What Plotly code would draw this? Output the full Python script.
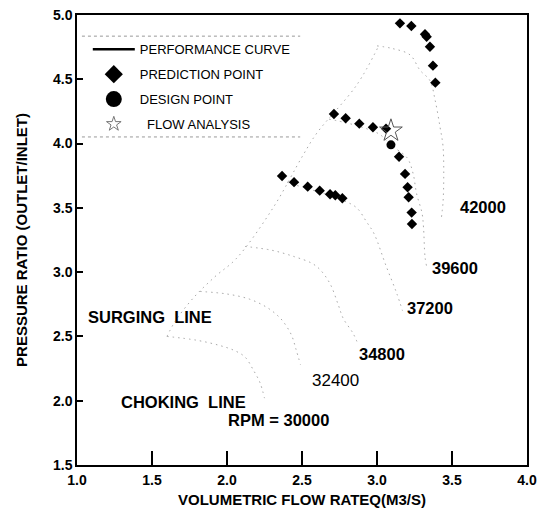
import plotly.graph_objects as go

# ---- performance curves (speed lines) ----
rpm30000_x = [1.60, 1.80, 1.95, 2.05, 2.12, 2.175, 2.22, 2.25]
rpm30000_y = [2.50, 2.47, 2.43, 2.39, 2.34, 2.24, 2.14, 2.02]

rpm32400_x = [1.82, 2.00, 2.15, 2.26, 2.33, 2.375, 2.43, 2.46, 2.49]
rpm32400_y = [2.85, 2.83, 2.79, 2.73, 2.67, 2.615, 2.51, 2.40, 2.28]

rpm34800_x = [2.12, 2.30, 2.45, 2.564, 2.62, 2.687, 2.742, 2.775, 2.84, 2.87]
rpm34800_y = [3.20, 3.17, 3.12, 3.07, 3.02, 2.91, 2.745, 2.64, 2.525, 2.45]

rpm37200_x = [2.40, 2.45, 2.55, 2.65, 2.78, 2.865, 2.931, 2.98, 3.06, 3.13, 3.17]
rpm37200_y = [3.70, 3.68, 3.645, 3.61, 3.555, 3.50, 3.39, 3.30, 3.05, 2.84, 2.70]

rpm39600_x = [2.68, 2.80, 2.92, 3.02, 3.09, 3.20, 3.24, 3.264, 3.30, 3.31, 3.32, 3.33]
rpm39600_y = [4.19, 4.16, 4.12, 4.07, 3.99, 3.89, 3.77, 3.61, 3.46, 3.35, 3.12, 3.05]

rpm42000_x = [3.00, 3.10, 3.22, 3.287, 3.353, 3.387, 3.42, 3.44, 3.445, 3.44, 3.43]
rpm42000_y = [4.76, 4.74, 4.69, 4.57, 4.49, 4.34, 4.13, 3.98, 3.75, 3.54, 3.43]

surge_x = [1.60, 1.653, 1.776, 1.92, 2.064, 2.307, 2.507, 2.598, 2.865, 3.007]
surge_y = [2.50, 2.615, 2.80, 2.965, 3.108, 3.50, 3.91, 4.08, 4.456, 4.75]

# ---- prediction points ----
pred42000_x = [3.153, 3.229, 3.320, 3.331, 3.353, 3.373, 3.389]
pred42000_y = [4.935, 4.914, 4.850, 4.831, 4.753, 4.606, 4.474]

pred39600_x = [2.713, 2.791, 2.882, 2.973, 3.060, 3.147, 3.187, 3.204, 3.211, 3.231, 3.233]
pred39600_y = [4.230, 4.197, 4.155, 4.127, 4.116, 3.898, 3.764, 3.660, 3.582, 3.463, 3.375]

pred37200_x = [2.367, 2.447, 2.538, 2.618, 2.687, 2.722, 2.769]
pred37200_y = [3.748, 3.700, 3.665, 3.634, 3.606, 3.598, 3.575]

design_x = [3.093]
design_y = [3.99]

flow_x = [3.093]
flow_y = [4.10]

# ---- labels ----
label_text = ["SURGING  LINE", "CHOKING  LINE", "RPM = 30000", "32400", "34800", "37200", "39600", "42000"]
label_x = [1.487, 1.707, 2.34, 2.72, 3.03, 3.353, 3.52, 3.707]
label_y = [2.652, 1.99, 1.85, 2.16, 2.36, 2.72, 3.03, 3.507]
label_bold = [True, True, True, False, True, True, True, True]

x_ticks = [1.0, 1.5, 2.0, 2.5, 3.0, 3.5, 4.0]
y_ticks = [1.5, 2.0, 2.5, 3.0, 3.5, 4.0, 4.5, 5.0]

FONT = "Liberation Sans, Arial, sans-serif"

fig = go.Figure()

curve_style = dict(color="#a8a8a8", width=1, dash="1.5px,4px")
for cx, cy in [(rpm30000_x, rpm30000_y), (rpm32400_x, rpm32400_y), (rpm34800_x, rpm34800_y),
               (rpm37200_x, rpm37200_y), (rpm39600_x, rpm39600_y), (rpm42000_x, rpm42000_y),
               (surge_x, surge_y)]:
    fig.add_trace(go.Scatter(x=cx, y=cy, mode="lines", line=dict(shape="spline", **curve_style),
                             showlegend=False, hoverinfo="skip"))

diamond = dict(symbol="diamond", size=8, color="black")
for px, py in [(pred42000_x, pred42000_y), (pred39600_x, pred39600_y), (pred37200_x, pred37200_y)]:
    fig.add_trace(go.Scatter(x=px, y=py, mode="markers", marker=diamond, showlegend=False))

fig.add_trace(go.Scatter(x=design_x, y=design_y, mode="markers",
                         marker=dict(symbol="circle", size=9, color="black"), showlegend=False))
fig.add_trace(go.Scatter(x=flow_x, y=flow_y, mode="markers",
                         marker=dict(symbol="star-open", size=17, color="#555", line=dict(width=1, color="#555")),
                         showlegend=False))

# legend entries
fig.add_trace(go.Scatter(x=[None], y=[None], mode="lines", name="PERFORMANCE CURVE",
                         line=dict(color="black", width=2.5), legendgroup="a"))
fig.add_trace(go.Scatter(x=[None], y=[None], mode="markers", name="PREDICTION POINT",
                         marker=dict(symbol="diamond", size=14, color="black"), legendgroup="b"))
fig.add_trace(go.Scatter(x=[None], y=[None], mode="markers", name="DESIGN POINT",
                         marker=dict(symbol="circle", size=16, color="black"), legendgroup="c"))
fig.add_trace(go.Scatter(x=[None], y=[None], mode="markers", name="\u00a0\u00a0FLOW ANALYSIS",
                         marker=dict(symbol="star-open", size=11, color="#777", line=dict(width=1, color="#777")),
                         legendgroup="d"))

for t, lx, ly, b in zip(label_text, label_x, label_y, label_bold):
    fig.add_annotation(x=lx, y=ly, text=t, showarrow=False,
                       font=dict(family=FONT, size=16.5 if b else 17, color="black",
                                 weight="bold" if b else "normal"))

# x-axis title placed as annotation (closer to tick labels than standoff allows)
fig.add_annotation(xref="paper", yref="paper", x=0.5, y=-0.077, yanchor="middle",
                   text="VOLUMETRIC FLOW RATEQ(M3/S)", showarrow=False,
                   font=dict(family=FONT, size=15, weight="bold", color="black"))

# dotted legend frame (top and bottom)
for yy in [0.953, 0.729]:
    fig.add_shape(type="line", xref="paper", yref="paper", x0=0.011, x1=0.496, y0=yy, y1=yy,
                  line=dict(color="#999", width=1, dash="dot"))

# page body has an 8px margin, so the figure is shrunk/shifted accordingly
fig.update_layout(
    width=540, height=502,
    margin=dict(l=69, r=21, t=7, b=45, autoexpand=False),
    paper_bgcolor="white", plot_bgcolor="white",
    font=dict(family=FONT, color="black"),
    legend=dict(x=0.024, y=0.957, xanchor="left", yanchor="top", bgcolor="rgba(0,0,0,0)",
                font=dict(family=FONT, size=13, color="black"), traceorder="grouped",
                tracegroupgap=5, itemwidth=42),
    xaxis=dict(range=[1, 4], tickvals=x_ticks, ticktext=[f"{v:.1f}" for v in x_ticks],
               ticks="inside", ticklen=14, tickwidth=1.5, tickcolor="black",
               showline=True, linecolor="black", linewidth=1.5, mirror=True, showgrid=False,
               zeroline=False, ticklabelstandoff=1, automargin=False, ticklabeloverflow="allow",
               tickfont=dict(family=FONT, size=14, weight="bold")),
    yaxis=dict(range=[1.5, 5], tickvals=y_ticks, ticktext=[f"{v:.1f}" for v in y_ticks],
               ticks="inside", ticklen=6, tickwidth=1.5, tickcolor="black",
               showline=True, linecolor="black", linewidth=1.5, mirror=True, showgrid=False,
               zeroline=False, ticklabelstandoff=0, automargin=False, ticklabeloverflow="allow",
               tickfont=dict(family=FONT, size=14, weight="bold"),
               title=dict(text="PRESSURE RATIO (OUTLET/INLET)", standoff=22,
                          font=dict(family=FONT, size=15, weight="bold"))),
)

fig.write_html("out.html")
